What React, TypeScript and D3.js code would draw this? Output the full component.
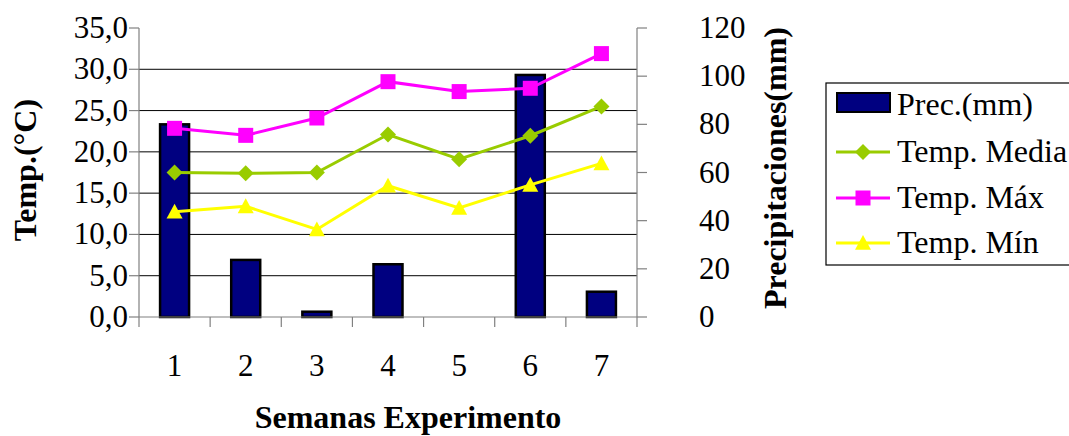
import React from "react";
import * as d3 from "d3";

const weeks = ["1", "2", "3", "4", "5", "6", "7"];
const precip = [80, 23.7, 2.2, 21.9, 0, 100.5, 10.5];
const tMedia = [17.5, 17.4, 17.5, 22.1, 19.1, 21.95, 25.5];
const tMax = [22.85, 22.0, 24.1, 28.5, 27.3, 27.7, 31.9];
const tMin = [12.75, 13.4, 10.6, 15.9, 13.2, 16.0, 18.6];
const leftTicks = [0, 5, 10, 15, 20, 25, 30, 35];
const rightTicks = [0, 20, 40, 60, 80, 100, 120];

const W = 1069, H = 436;
const L = 139, R = 637, T = 28, B = 317;
const FONT = "'Liberation Serif', 'Times New Roman', serif";
const FS = 31;

export default function App() {
  const x = d3.scaleBand<string>().domain(weeks).range([L, R]);
  const yL = d3.scaleLinear().domain([0, 35]).range([B, T]);
  const yR = d3.scaleLinear().domain([0, 120]).range([B, T]);
  const cx = (w: string) => (x(w) as number) + x.bandwidth() / 2;
  const line = d3.line<number>().x((_, i) => cx(weeks[i])).y((d) => yL(d));
  const bw = 29;

  const diamond = (px: number, py: number, s = 8) =>
    `M${px},${py - s}L${px + s},${py}L${px},${py + s}L${px - s},${py}Z`;
  const tri = (px: number, py: number, s = 8) =>
    `M${px},${py - s}L${px + s},${py + s * 0.85}L${px - s},${py + s * 0.85}Z`;

  const legendItems = [
    { label: "Prec.(mm)", type: "bar", color: "#000080" },
    { label: "Temp. Media", type: "diamond", color: "#99CC00" },
    { label: "Temp. Máx", type: "square", color: "#FF00FF" },
    { label: "Temp. Mín", type: "tri", color: "#FFFF00" },
  ];
  const legBase = [115, 162, 208, 253];

  return (
    <svg width={W} height={H} style={{ position: "absolute", left: 0, top: 0, background: "#fff" }} fontFamily={FONT}>
      {leftTicks.filter((t) => t > 0 && t < 35).map((t) => (
        <line key={t} x1={L} x2={R} y1={yL(t)} y2={yL(t)} stroke="#000" strokeWidth={1} />
      ))}
      {precip.map((p, i) => (
        <rect key={i} x={cx(weeks[i]) - bw / 2} y={yR(p)} width={bw} height={B - yR(p)}
          fill="#000080" stroke="#000" strokeWidth={p > 0 ? 2.5 : 0} />
      ))}
      <line x1={L} x2={L} y1={T} y2={B} stroke="#808080" strokeWidth={1.2} />
      <line x1={R} x2={R} y1={T} y2={B} stroke="#808080" strokeWidth={1.2} />
      <line x1={L} x2={R} y1={B} y2={B} stroke="#808080" strokeWidth={1.2} />
      {leftTicks.map((t) => (
        <g key={t}>
          <line x1={L - 10} x2={L} y1={yL(t)} y2={yL(t)} stroke="#808080" strokeWidth={1.2} />
          <text x={128} y={yL(t) + 10} textAnchor="end" fontSize={FS}>{t.toFixed(1).replace(".", ",")}</text>
        </g>
      ))}
      {rightTicks.map((t) => (
        <g key={t}>
          <line x1={R} x2={R + 10} y1={yR(t)} y2={yR(t)} stroke="#808080" strokeWidth={1.2} />
          <text x={699} y={yR(t) + 10} textAnchor="start" fontSize={FS}>{t}</text>
        </g>
      ))}
      {weeks.concat(["end"]).map((w, i) => {
        const xx = L + i * x.bandwidth();
        return <line key={i} x1={xx} x2={xx} y1={B} y2={B + 10} stroke="#808080" strokeWidth={1.2} />;
      })}
      {weeks.map((w) => (
        <text key={w} x={cx(w)} y={376} textAnchor="middle" fontSize={FS}>{w}</text>
      ))}
      <path d={line(tMedia) || ""} fill="none" stroke="#99CC00" strokeWidth={3} />
      <path d={line(tMax) || ""} fill="none" stroke="#FF00FF" strokeWidth={3} />
      <path d={line(tMin) || ""} fill="none" stroke="#FFFF00" strokeWidth={3} />
      {tMedia.map((v, i) => <path key={"d" + i} d={diamond(cx(weeks[i]), yL(v))} fill="#99CC00" />)}
      {tMax.map((v, i) => <rect key={"s" + i} x={cx(weeks[i]) - 7.5} y={yL(v) - 7.5} width={15} height={15} fill="#FF00FF" />)}
      {tMin.map((v, i) => <path key={"t" + i} d={tri(cx(weeks[i]), yL(v))} fill="#FFFF00" />)}
      <text transform={`translate(36,170) rotate(-90)`} textAnchor="middle" fontSize={32} fontWeight="bold">Temp.(°C)</text>
      <text transform={`translate(786,168) rotate(-90)`} textAnchor="middle" fontSize={32} fontWeight="bold">Precipitaciones(mm)</text>
      <text x={408} y={428} textAnchor="middle" fontSize={32} fontWeight="bold">Semanas Experimento</text>
      <rect x={826} y={83} width={260} height={182} fill="#fff" stroke="#000" strokeWidth={1.2} />
      {legendItems.map((it, i) => {
        const by = legBase[i];
        const my = by - 10;
        return (
          <g key={it.label}>
            {it.type === "bar" ? (
              <rect x={837} y={by - 22} width={53} height={19} fill={it.color} stroke="#000" strokeWidth={2} />
            ) : (
              <>
                <line x1={836} x2={890} y1={my} y2={my} stroke={it.color} strokeWidth={3} />
                {it.type === "diamond" && <path d={diamond(863, my)} fill={it.color} />}
                {it.type === "square" && <rect x={855.5} y={my - 7.5} width={15} height={15} fill={it.color} />}
                {it.type === "tri" && <path d={tri(863, my)} fill={it.color} />}
              </>
            )}
            <text x={897} y={by} fontSize={32}>{it.label}</text>
          </g>
        );
      })}
    </svg>
  );
}
